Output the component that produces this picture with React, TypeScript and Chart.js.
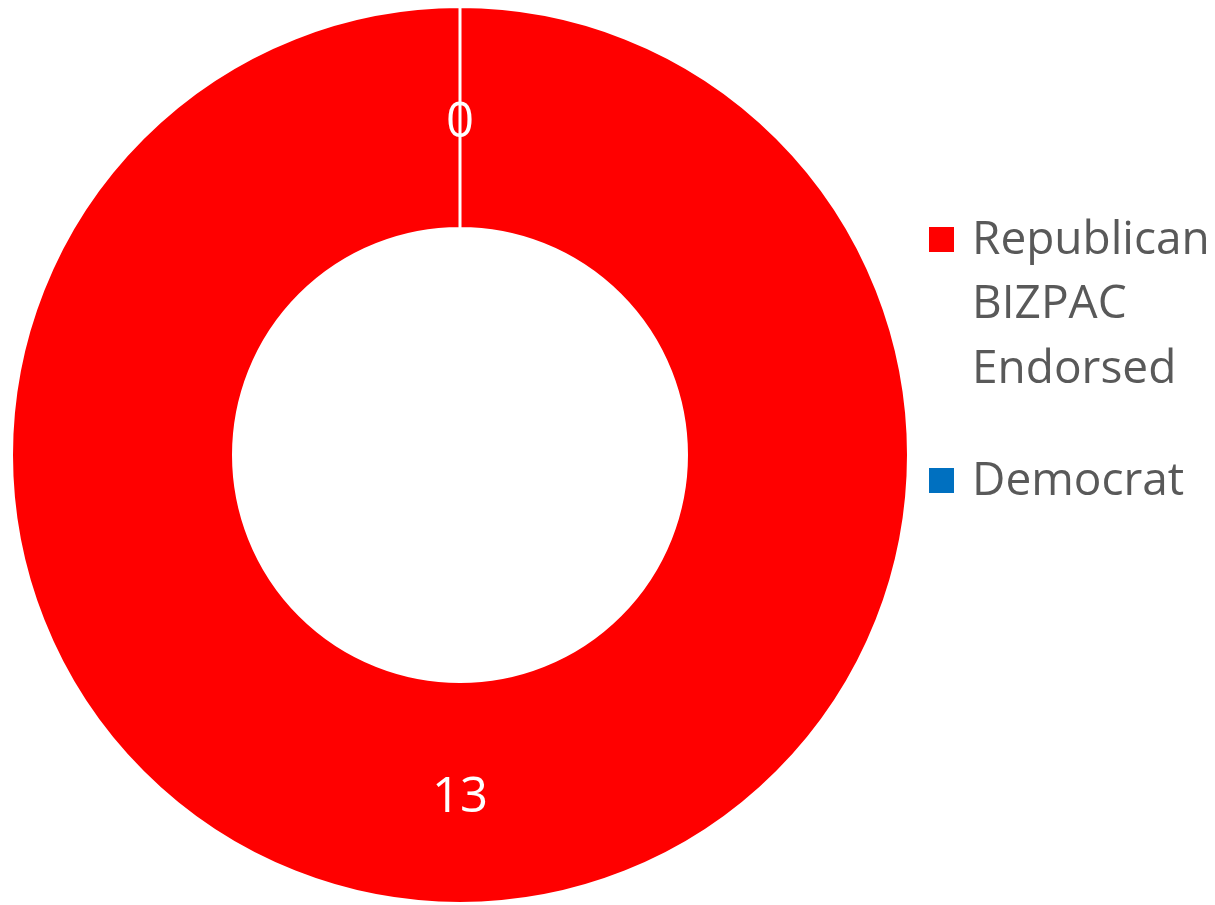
import React, { useEffect, useRef } from "react";
import { Chart, registerables } from "chart.js";

Chart.register(...registerables);

const categories = ["Republican BIZPAC Endorsed", "Democrat"];
const seriesValues = [13, 0];
const sliceColors = ["#FF0000", "#0070C0"];

const FONT = "'Open Sans', 'Noto Sans', sans-serif";

const dataLabelPlugin = {
  id: "dataLabels",
  afterDatasetsDraw(chart: any) {
    const ctx = chart.ctx;
    const meta = chart.getDatasetMeta(0);
    const data = chart.data.datasets[0].data as number[];
    ctx.save();
    ctx.fillStyle = "#FFFFFF";
    ctx.font = `49px ${FONT}`;
    ctx.textAlign = "center";
    ctx.textBaseline = "alphabetic";
    meta.data.forEach((arc: any, i: number) => {
      const p = arc.tooltipPosition(false);
      ctx.fillText(String(data[i]), p.x, p.y + 19.5);
    });
    ctx.restore();
  },
};

export default function App() {
  const canvasRef = useRef<HTMLCanvasElement | null>(null);

  useEffect(() => {
    document.body.style.margin = "0";
    const canvas = canvasRef.current!;
    const chart = new Chart(canvas, {
      type: "doughnut",
      data: {
        labels: categories,
        datasets: [
          {
            data: seriesValues,
            backgroundColor: sliceColors,
            borderColor: "#FFFFFF",
            borderWidth: 3,
          },
        ],
      },
      options: {
        animation: false,
        responsive: false,
        maintainAspectRatio: false,
        cutout: "50.5%",
        layout: { padding: { left: 10, top: 5, bottom: 0, right: 305 } },
        plugins: {
          legend: { display: false },
          tooltip: { enabled: false },
        },
      },
      plugins: [dataLabelPlugin],
    });
    return () => chart.destroy();
  }, []);

  const legendTops = [203.9, 444.9];
  const squareTops = [227, 468];

  return (
    <div
      style={{
        position: "absolute",
        left: 0,
        top: 0,
        width: 1215,
        height: 905,
        background: "#FFFFFF",
        overflow: "hidden",
      }}
    >
      <canvas ref={canvasRef} width={1215} height={905} style={{ position: "absolute", left: 0, top: 0 }} />
      {categories.map((c, i) => (
        <React.Fragment key={c}>
          <div
            style={{
              position: "absolute",
              left: 929,
              top: squareTops[i],
              width: 25,
              height: 25,
              background: sliceColors[i],
            }}
          />
          <div
            style={{
              position: "absolute",
              left: 972,
              top: legendTops[i],
              width: 243,
              fontFamily: FONT,
              fontSize: 46,
              lineHeight: "64.5px",
              color: "#595959",
            }}
          >
            {c}
          </div>
        </React.Fragment>
      ))}
    </div>
  );
}
